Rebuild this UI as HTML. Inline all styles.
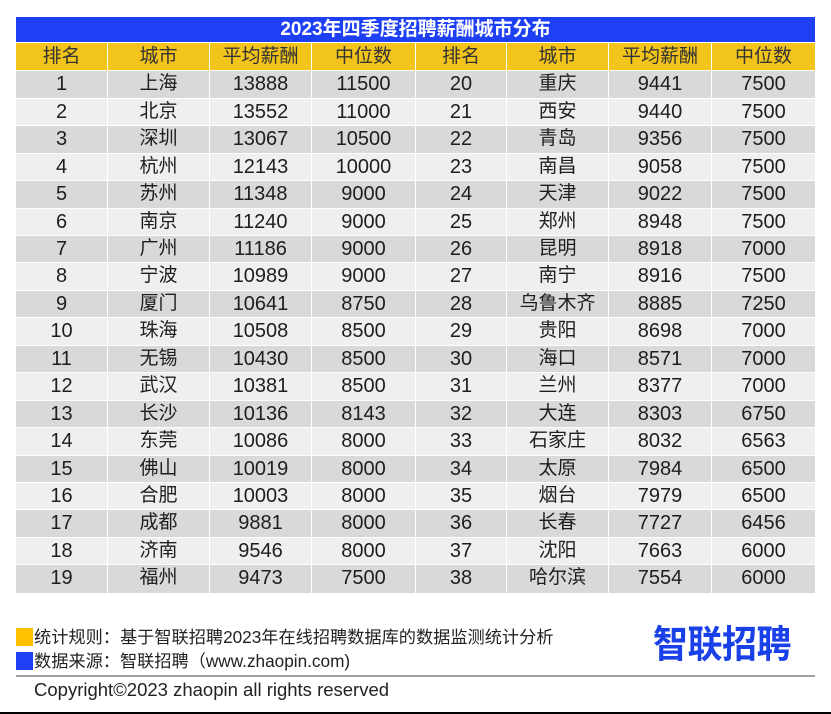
<!DOCTYPE html>
<html><head><meta charset="utf-8">
<style>
*{margin:0;padding:0;box-sizing:border-box}
html,body{width:831px;height:714px;background:#fff;overflow:hidden;font-family:"Liberation Sans","Noto Sans CJK SC",sans-serif}
#tbl{position:absolute;left:16px;top:17px;width:799px}
.title{height:26px;background:#1e40f5;color:#fff;font-weight:bold;font-size:19px;line-height:26px;text-align:center;border-bottom:1px solid #fff}
.r{display:flex;height:27.45px;border-bottom:1px solid #fff}
.r div{border-right:1px solid #fff;text-align:center;font-size:20px;line-height:26px;color:#1e1e1e;white-space:nowrap}
.r div:last-child{border-right:none}
.c2,.c6{font-size:19px!important}
.h{background:#f2c41c;height:28.4px}
.h div{color:#333;line-height:27px;font-size:19px!important}
.o{background:#d9d9d9}
.e{background:#efefef}
.c1{width:92px}.c2{width:102px}.c3{width:102px}.c4{width:104px}.c5{width:91px}.c6{width:102px}.c7{width:103px}.c8{width:103px}
.sq{position:absolute;left:16px;width:17px;height:18px}
.ft{position:absolute;left:34px;font-size:17.2px;color:#222;line-height:20px;white-space:nowrap}
</style></head><body>
<div id="tbl">
<div class="title">2023年四季度招聘薪酬城市分布</div>
<div class="r h"><div class="c1">排名</div><div class="c2">城市</div><div class="c3">平均薪酬</div><div class="c4">中位数</div><div class="c5">排名</div><div class="c6">城市</div><div class="c7">平均薪酬</div><div class="c8">中位数</div></div>
<div class="r o"><div class="c1">1</div><div class="c2">上海</div><div class="c3">13888</div><div class="c4">11500</div><div class="c5">20</div><div class="c6">重庆</div><div class="c7">9441</div><div class="c8">7500</div></div>
<div class="r e"><div class="c1">2</div><div class="c2">北京</div><div class="c3">13552</div><div class="c4">11000</div><div class="c5">21</div><div class="c6">西安</div><div class="c7">9440</div><div class="c8">7500</div></div>
<div class="r o"><div class="c1">3</div><div class="c2">深圳</div><div class="c3">13067</div><div class="c4">10500</div><div class="c5">22</div><div class="c6">青岛</div><div class="c7">9356</div><div class="c8">7500</div></div>
<div class="r e"><div class="c1">4</div><div class="c2">杭州</div><div class="c3">12143</div><div class="c4">10000</div><div class="c5">23</div><div class="c6">南昌</div><div class="c7">9058</div><div class="c8">7500</div></div>
<div class="r o"><div class="c1">5</div><div class="c2">苏州</div><div class="c3">11348</div><div class="c4">9000</div><div class="c5">24</div><div class="c6">天津</div><div class="c7">9022</div><div class="c8">7500</div></div>
<div class="r e"><div class="c1">6</div><div class="c2">南京</div><div class="c3">11240</div><div class="c4">9000</div><div class="c5">25</div><div class="c6">郑州</div><div class="c7">8948</div><div class="c8">7500</div></div>
<div class="r o"><div class="c1">7</div><div class="c2">广州</div><div class="c3">11186</div><div class="c4">9000</div><div class="c5">26</div><div class="c6">昆明</div><div class="c7">8918</div><div class="c8">7000</div></div>
<div class="r e"><div class="c1">8</div><div class="c2">宁波</div><div class="c3">10989</div><div class="c4">9000</div><div class="c5">27</div><div class="c6">南宁</div><div class="c7">8916</div><div class="c8">7500</div></div>
<div class="r o"><div class="c1">9</div><div class="c2">厦门</div><div class="c3">10641</div><div class="c4">8750</div><div class="c5">28</div><div class="c6">乌鲁木齐</div><div class="c7">8885</div><div class="c8">7250</div></div>
<div class="r e"><div class="c1">10</div><div class="c2">珠海</div><div class="c3">10508</div><div class="c4">8500</div><div class="c5">29</div><div class="c6">贵阳</div><div class="c7">8698</div><div class="c8">7000</div></div>
<div class="r o"><div class="c1">11</div><div class="c2">无锡</div><div class="c3">10430</div><div class="c4">8500</div><div class="c5">30</div><div class="c6">海口</div><div class="c7">8571</div><div class="c8">7000</div></div>
<div class="r e"><div class="c1">12</div><div class="c2">武汉</div><div class="c3">10381</div><div class="c4">8500</div><div class="c5">31</div><div class="c6">兰州</div><div class="c7">8377</div><div class="c8">7000</div></div>
<div class="r o"><div class="c1">13</div><div class="c2">长沙</div><div class="c3">10136</div><div class="c4">8143</div><div class="c5">32</div><div class="c6">大连</div><div class="c7">8303</div><div class="c8">6750</div></div>
<div class="r e"><div class="c1">14</div><div class="c2">东莞</div><div class="c3">10086</div><div class="c4">8000</div><div class="c5">33</div><div class="c6">石家庄</div><div class="c7">8032</div><div class="c8">6563</div></div>
<div class="r o"><div class="c1">15</div><div class="c2">佛山</div><div class="c3">10019</div><div class="c4">8000</div><div class="c5">34</div><div class="c6">太原</div><div class="c7">7984</div><div class="c8">6500</div></div>
<div class="r e"><div class="c1">16</div><div class="c2">合肥</div><div class="c3">10003</div><div class="c4">8000</div><div class="c5">35</div><div class="c6">烟台</div><div class="c7">7979</div><div class="c8">6500</div></div>
<div class="r o"><div class="c1">17</div><div class="c2">成都</div><div class="c3">9881</div><div class="c4">8000</div><div class="c5">36</div><div class="c6">长春</div><div class="c7">7727</div><div class="c8">6456</div></div>
<div class="r e"><div class="c1">18</div><div class="c2">济南</div><div class="c3">9546</div><div class="c4">8000</div><div class="c5">37</div><div class="c6">沈阳</div><div class="c7">7663</div><div class="c8">6000</div></div>
<div class="r o" style="border-bottom:none"><div class="c1">19</div><div class="c2">福州</div><div class="c3">9473</div><div class="c4">7500</div><div class="c5">38</div><div class="c6">哈尔滨</div><div class="c7">7554</div><div class="c8">6000</div></div>
</div>

<div class="sq" style="top:628px;background:#ffc000"></div>
<div class="ft" style="top:627px">统计规则：基于智联招聘2023年在线招聘数据库的数据监测统计分析</div>
<div class="sq" style="top:652px;background:#1f3ff5"></div>
<div class="ft" style="top:651px">数据来源：智联招聘（www.zhaopin.com)</div>
<div style="position:absolute;left:653px;top:622px;font-size:35px;font-weight:bold;color:#1a40e8;line-height:44px;letter-spacing:-0.5px;white-space:nowrap;transform:scaleY(1.08);transform-origin:top left">智联招聘</div>
<div style="position:absolute;left:16px;top:675px;width:799px;height:2px;background:#a0a0a0"></div>
<div style="position:absolute;left:34px;top:680px;font-size:18.5px;line-height:20px;color:#222;white-space:nowrap">Copyright©2023 zhaopin all rights reserved</div>
<div style="position:absolute;left:0;top:712px;width:831px;height:2px;background:#000"></div>
</body></html>
